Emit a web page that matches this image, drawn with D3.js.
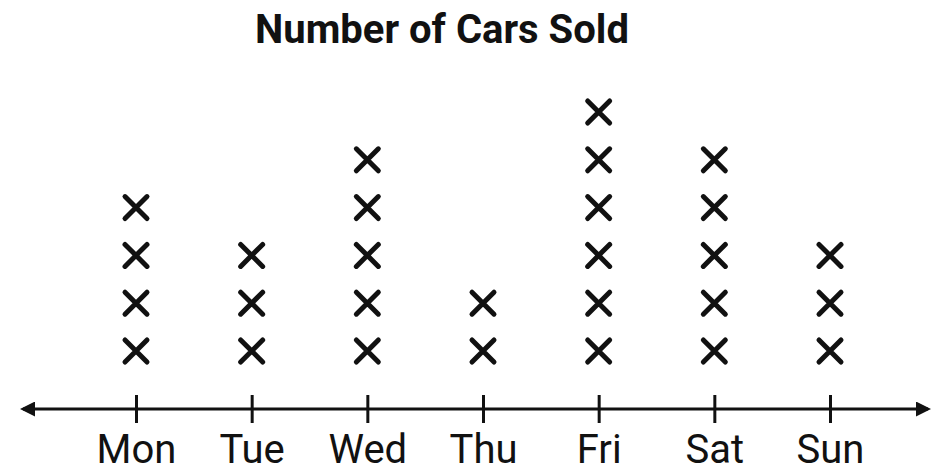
<!DOCTYPE html>
<html>
<head>
<meta charset="utf-8">
<script src="https://cdn.jsdelivr.net/npm/d3@7"></script>
<style>
  body { margin: 0; background: #fff; }
  svg { display: block; font-family: Roboto, sans-serif; }
</style>
</head>
<body>
<svg id="chart" width="944" height="467"></svg>
<script>
// data
const days = ['Mon', 'Tue', 'Wed', 'Thu', 'Fri', 'Sat', 'Sun'];
const carsSold = [4, 3, 5, 2, 6, 5, 3];
const title = 'Number of Cars Sold';

const svg = d3.select('#chart');
const axisY = 409;

const x = d3.scalePoint()
    .domain(days)
    .range([136, 830]);

// one row per car
const y = d3.scaleLinear()
    .domain([1, 6])
    .range([351, 112]);

// title
svg.append('text')
    .attr('x', 442)
    .attr('y', 43)
    .attr('text-anchor', 'middle')
    .attr('font-size', 40)
    .attr('font-weight', 700)
    .attr('fill', '#111')
    .text(title);

// arrow heads
const defs = svg.append('defs');
defs.append('marker')
    .attr('id', 'arrow')
    .attr('viewBox', '0 0 10 10')
    .attr('refX', 8)
    .attr('refY', 5)
    .attr('markerWidth', 5)
    .attr('markerHeight', 5)
    .attr('markerUnits', 'strokeWidth')
    .attr('orient', 'auto-start-reverse')
    .append('path')
    .attr('d', 'M0,0 L10,5 L0,10 Z')
    .attr('fill', '#111');

svg.append('line')
    .attr('x1', 23)
    .attr('x2', 928)
    .attr('y1', axisY)
    .attr('y2', axisY)
    .attr('stroke', '#111')
    .attr('stroke-width', 3)
    .attr('marker-start', 'url(#arrow)')
    .attr('marker-end', 'url(#arrow)');

// axis ticks + labels
const axis = svg.append('g')
    .attr('transform', `translate(0,${axisY})`)
    .call(d3.axisBottom(x).tickSize(14).tickPadding(12));

axis.select('.domain').remove();
axis.selectAll('.tick line')
    .attr('y1', -14)
    .attr('y2', 14)
    .attr('stroke', '#111')
    .attr('stroke-width', 3);
axis.selectAll('.tick text')
    .attr('font-family', 'Roboto, sans-serif')
    .attr('font-size', 40)
    .attr('fill', '#111');

// the X marks
const marks = [];
days.forEach((d, i) => {
  for (let k = 1; k <= carsSold[i]; k++) marks.push({ day: d, n: k });
});

const s = 11;
const g = svg.append('g')
    .attr('stroke', '#111')
    .attr('stroke-width', 5)
    .attr('stroke-linecap', 'round');

g.selectAll('path')
    .data(marks)
    .join('path')
    .attr('d', m => {
      const cx = x(m.day), cy = y(m.n);
      return `M${cx - s},${cy - s}L${cx + s},${cy + s}M${cx + s},${cy - s}L${cx - s},${cy + s}`;
    });
</script>
</body>
</html>
